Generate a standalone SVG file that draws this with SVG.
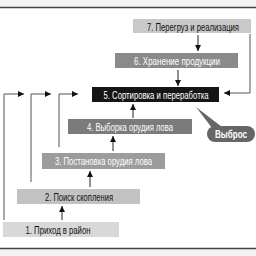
<svg xmlns="http://www.w3.org/2000/svg" width="256" height="256" viewBox="0 0 256 256">
<style>
.t{font-family:"Liberation Sans Narrow","Liberation Sans",Arial,sans-serif;font-size:11px;text-anchor:middle;dominant-baseline:central}
.w{fill:#fff}
.k{fill:#111}
.ln{stroke:#222;stroke-width:1;fill:none}
.gl{stroke:#555;stroke-width:1;fill:none}
</style>
<defs>
<marker id="ah" viewBox="0 0 6 6" refX="6" refY="3" markerWidth="6" markerHeight="6" markerUnits="userSpaceOnUse" orient="auto">
<path d="M0,0 L6,3 L0,6 Z" fill="#111"/>
</marker>
</defs>
<rect x="0" y="0" width="256" height="7" fill="#f2f2f2"/>
<rect x="0" y="249" width="256" height="7" fill="#f2f2f2"/>
<line x1="0" y1="7.5" x2="256" y2="7.5" stroke="#444" stroke-width="1.5"/>
<line x1="0" y1="248.5" x2="256" y2="248.5" stroke="#444" stroke-width="1.5"/>

<g id="connectors">
<line class="ln" x1="198" y1="35" x2="198" y2="51" marker-end="url(#ah)"/>
<line class="ln" x1="178" y1="70" x2="178" y2="86" marker-end="url(#ah)"/>
<line class="ln" x1="133" y1="118" x2="133" y2="104" marker-end="url(#ah)"/>
<line class="ln" x1="113" y1="151" x2="113" y2="136" marker-end="url(#ah)"/>
<line class="ln" x1="90" y1="187" x2="90" y2="171" marker-end="url(#ah)"/>
<line class="ln" x1="62" y1="220" x2="62" y2="206" marker-end="url(#ah)"/>
<polyline class="gl" points="250,34 250,93 224,93" marker-end="url(#ah)"/>
<polyline class="gl" points="4,220 4,94 24,94" marker-end="url(#ah)"/>
<polyline class="gl" points="31,182 31,94 51,94" marker-end="url(#ah)"/>
<polyline class="gl" points="59,147 59,94 78,94" marker-end="url(#ah)"/>
</g>

<g id="n7"><rect x="133" y="19" width="118" height="14" fill="#c9c9c9"/><text class="t k" x="193" y="26.5" textLength="92" lengthAdjust="spacingAndGlyphs">7. Перегруз и реализация</text></g>
<g id="n6"><rect x="115" y="53" width="123" height="15" fill="#8a8a8a"/><text class="t w" x="177" y="60.5" textLength="86" lengthAdjust="spacingAndGlyphs">6. Хранение продукции</text></g>
<g id="n5"><rect x="92" y="87" width="127" height="15" fill="#151515"/><text class="t w" x="156" y="94.5" textLength="105" lengthAdjust="spacingAndGlyphs">5. Сортировка и переработка</text></g>
<g id="n4"><rect x="68" y="119" width="124" height="15" fill="#7b7b7b"/><text class="t w" x="130" y="126.5" textLength="86" lengthAdjust="spacingAndGlyphs">4. Выборка орудия лова</text></g>
<g id="n3"><rect x="42" y="153" width="123" height="16" fill="#9c9c9c"/><text class="t w" x="103.5" y="161" textLength="97" lengthAdjust="spacingAndGlyphs">3. Постановка орудия лова</text></g>
<g id="n2"><rect x="17" y="189" width="123" height="15" fill="#c2c2c2"/><text class="t k" x="79" y="196.5" textLength="68" lengthAdjust="spacingAndGlyphs">2. Поиск скопления</text></g>
<g id="n1"><rect x="3" y="222" width="116" height="15" fill="#d8d8d8"/><text class="t k" x="58" y="229.5" textLength="65" lengthAdjust="spacingAndGlyphs">1. Приход в район</text></g>
<g id="callout">
<path d="M196,107 L212,128 L222,127 Z" fill="#666"/>
<rect x="207" y="126" width="48" height="16" rx="8" fill="#666"/>
<text class="t w" x="231" y="134" font-weight="bold" font-size="10" textLength="32" lengthAdjust="spacingAndGlyphs">Выброс</text>
</g>
</svg>
